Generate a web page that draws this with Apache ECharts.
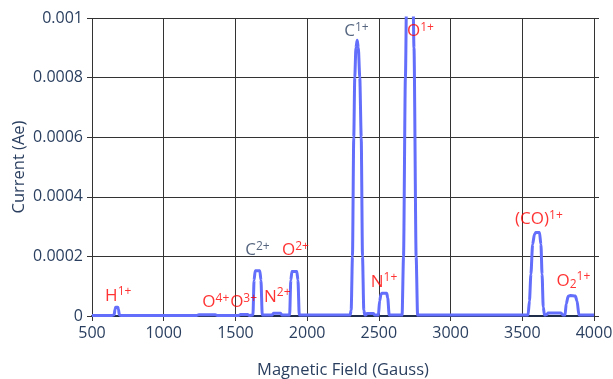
<!DOCTYPE html>
<html>
<head>
<meta charset="utf-8">
<script src="https://cdn.jsdelivr.net/npm/echarts@6/dist/echarts.min.js"></script>
<style>
    html, body { margin: 0; padding: 0; background: #fff; }
    #chart { width: 613px; height: 379px; }
</style>
</head>
<body>
<div id="chart"></div>
<script>
    // measured spectrum (Gauss, Ae)
    const fieldX = [500, 640, 655, 660, 665, 680, 685, 690, 700, 1230, 1245, 1360, 1372, 1525, 1535, 1585, 1595,
        1622, 1630, 1638, 1670, 1678, 1687, 1755, 1765, 1815, 1825, 1878, 1886, 1894, 1928, 1936, 1945,
        2300, 2307, 2316, 2325, 2332, 2340, 2349, 2357, 2367, 2377, 2386, 2395, 2402, 2410, 2418, 2462, 2470,
        2497, 2505, 2515, 2522, 2555, 2562, 2572, 2662, 2672, 2685, 2700, 2715, 2730, 2745, 2760, 2770,
        3540, 3550, 3560, 3572, 3585, 3595, 3620, 3630, 3638, 3646, 3655, 3670, 3680, 3770, 3785,
        3798, 3806, 3820, 3835, 3870, 3882, 3895, 4000];
    const current = [2e-6, 2e-6, 4e-6, 2.2e-5, 2.9e-5, 2.9e-5, 2.2e-5, 4e-6, 2e-6, 2e-6, 4e-6, 4e-6, 2e-6, 2e-6, 5e-6, 5e-6, 2e-6,
        3e-6, 1.2e-4, 1.52e-4, 1.52e-4, 1.2e-4, 3e-6, 3e-6, 9e-6, 9e-6, 3e-6, 3e-6, 1.2e-4, 1.49e-4, 1.49e-4, 1.2e-4, 3e-6,
        3e-6, 2e-5, 2e-4, 6e-4, 8e-4, 9e-4, 9.25e-4, 9e-4, 8e-4, 6e-4, 2e-4, 2e-5, 3e-6, 3e-6, 8e-6, 8e-6, 3e-6,
        3e-6, 5e-5, 7.3e-5, 7.6e-5, 7.6e-5, 6e-5, 3e-6, 3e-6, 2e-4, 8e-4, 1.4e-3, 1.6e-3, 1.4e-3, 9e-4, 2e-4, 3e-6,
        3e-6, 5e-5, 1.4e-4, 2.4e-4, 2.75e-4, 2.8e-4, 2.8e-4, 2.4e-4, 1.4e-4, 3e-5, 3e-6, 5e-6, 1e-5, 1e-5, 3e-6,
        3e-6, 4e-5, 6.6e-5, 6.9e-5, 6.7e-5, 5e-5, 3e-6, 3e-6];

    // peak labels
    const ionBase = ['H', 'O', 'O', 'N', 'C', 'O', 'C', 'O', 'N', '(CO)', 'O'];
    const ionSub = ['', '', '', '', '', '', '', '', '', '', '2'];
    const ionCharge = ['1+', '4+', '3+', '2+', '2+', '2+', '1+', '1+', '1+', '1+', '1+'];
    const ionX = [683, 1363, 1557, 1792, 1654, 1918, 2344, 2790, 2536, 3616, 3856];
    const ionY = [0.000067, 0.0000453, 0.0000453, 0.0000644, 0.000221, 0.000221, 0.000955, 0.000955, 0.000115, 0.000324, 0.000118];
    const ionColor = ['red', 'red', 'red', 'red', '#2a3f5f', 'red', '#2a3f5f', 'red', 'red', 'red', 'red'];

    const xTicks = { min: 500, max: 4000, interval: 500 };
    const yTicks = { min: 0, max: 0.001, interval: 0.0002 };

    const textColor = '#2a3f5f',
        gridColor = '#333',
        font = '"Open Sans", sans-serif';

    renderChart();

    function renderChart() {
        const chartDom = document.getElementById('chart');
        const myChart = echarts.init(chartDom);

        const lineData = fieldX.map((x, i) => [x, current[i]]);
        const labelData = ionBase.map((b, i) => {
            let txt = '{b|' + b + '}';
            if (ionSub[i]) txt += '{d|' + ionSub[i] + '}';
            txt += '{s|' + ionCharge[i] + '}';
            return {
                value: [ionX[i], ionY[i]],
                label: { formatter: txt, color: ionColor[i] }
            };
        });

        const tickStyle = { show: true, length: 5, inside: false, lineStyle: { color: gridColor } };

        const option = {
            animation: false,
            grid: { left: 92, right: 19, top: 18, bottom: 63, outerBoundsMode: 'none', containLabel: false },
            xAxis: [
                {
                    type: 'value',
                    min: xTicks.min, max: xTicks.max, interval: xTicks.interval,
                    name: 'Magnetic Field (Gauss)',
                    nameLocation: 'middle',
                    nameGap: 46,
                    nameTextStyle: { color: textColor, fontSize: 16.5, fontFamily: font },
                    axisLine: { show: true, onZero: false, lineStyle: { color: '#1f2d4a', width: 2 } },
                    axisTick: tickStyle,
                    axisLabel: { color: textColor, fontSize: 16, fontFamily: font, margin: 9, formatter: v => String(v) },
                    splitLine: { show: true, lineStyle: { color: gridColor, width: 1 } }
                },
                {
                    type: 'value', position: 'top',
                    min: xTicks.min, max: xTicks.max, interval: xTicks.interval,
                    axisLine: { show: false },
                    axisTick: tickStyle,
                    axisLabel: { show: false },
                    splitLine: { show: false }
                }
            ],
            yAxis: [
                {
                    type: 'value',
                    min: yTicks.min, max: yTicks.max, interval: yTicks.interval,
                    name: 'Current (Ae)',
                    nameLocation: 'middle',
                    nameGap: 64,
                    nameMoveOverlap: false,
                    nameTextStyle: { color: textColor, fontSize: 16.5, fontFamily: font },
                    axisLine: { show: false },
                    axisTick: tickStyle,
                    axisLabel: {
                        color: textColor, fontSize: 16, fontFamily: font, margin: 9,
                        formatter: v => v === 0 ? '0' : String(parseFloat(v.toPrecision(4)))
                    },
                    splitLine: { show: true, lineStyle: { color: gridColor, width: 1 } }
                },
                {
                    type: 'value', position: 'right',
                    min: yTicks.min, max: yTicks.max, interval: yTicks.interval,
                    axisLine: { show: false },
                    axisTick: tickStyle,
                    axisLabel: { show: false },
                    splitLine: { show: false }
                }
            ],
            series: [
                {
                    type: 'line',
                    data: lineData,
                    showSymbol: false,
                    smooth: 0.25,
                    smoothMonotone: 'x',
                    clip: true,
                    lineStyle: { color: '#636efa', width: 3 },
                    z: 3
                },
                {
                    type: 'scatter',
                    data: labelData,
                    symbolSize: 0,
                    z: 4,
                    label: {
                        show: true,
                        position: 'inside',
                        fontFamily: font,
                        rich: {
                            b: { fontSize: 17, lineHeight: 20, fontFamily: font },
                            s: { fontSize: 12, lineHeight: 8, verticalAlign: 'top', fontFamily: font },
                            d: { fontSize: 12, lineHeight: 12, verticalAlign: 'bottom', fontFamily: font }
                        }
                    }
                }
            ]
        };

        myChart.setOption(option);
    }
</script>
</body>
</html>
